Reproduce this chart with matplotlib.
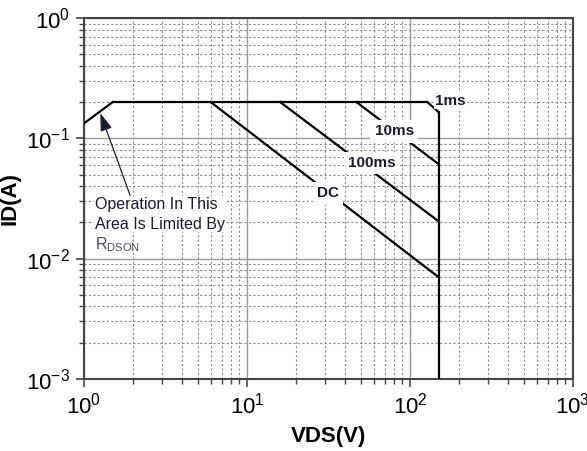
import numpy as np
import matplotlib
matplotlib.use('Agg')
from matplotlib import pyplot, rc
from matplotlib.ticker import LogLocator, FuncFormatter, NullFormatter

rc('font', family='Liberation Sans', size=11)
rc('mathtext', fontset='custom', rm='Liberation Sans', it='Liberation Sans')

# safe operating area boundaries (VDS in V, ID in A)
rds_v = [1.0, 1.5]
rds_i = [0.133, 0.2]
top_v = [1.5, 128]
top_i = [0.2, 0.2]
ms1_v = [128, 150]
ms1_i = [0.2, 0.165]
ms10_v = [47, 150]
ms10_i = [0.2, 0.061]
ms100_v = [16, 150]
ms100_i = [0.2, 0.0204]
dc_v = [6, 150]
dc_i = [0.2, 0.007]
vmax_v = [150, 150]
vmax_i = [0.165, 0.001]

labels = ['1ms', '10ms', '100ms', 'DC']
label_v = [178, 80, 58.5, 31.5]
label_i = [0.205, 0.114, 0.062, 0.0348]

# arrow pointing at the RDS(on) limit
arrow_tip = (1.26, 0.162)
arrow_tail = (1.92, 0.0335)

text_color = '#1a1a2e'

figure = pyplot.figure(figsize=(5.87, 4.51), dpi=100)
plot = figure.add_axes([0.143, 0.160, 0.833, 0.800])
plot.set_xscale('log')
plot.set_yscale('log')
plot.set_xlim(1, 1000)
plot.set_ylim(1e-3, 1)

plot.grid(True, which='major', color='#9a9a9a', linestyle='-', linewidth=1.0)
plot.grid(True, which='minor', color='#8a8a8a', linestyle=(0, (2, 2)),
          linewidth=0.8)

lw = 1.6
for v, i in [(rds_v, rds_i), (top_v, top_i), (ms1_v, ms1_i),
             (ms10_v, ms10_i), (ms100_v, ms100_i), (dc_v, dc_i),
             (vmax_v, vmax_i)]:
    plot.plot(v, i, color='black', linewidth=lw, zorder=3)

for name, v, i in zip(labels, label_v, label_i):
    plot.text(v, i, name, ha='center', va='center', fontsize=11,
              fontweight='bold', color=text_color, zorder=5,
              bbox=dict(facecolor='white', edgecolor='none',
                        pad=3 if name != '1ms' else 1))

plot.text(1.165, 0.0325, 'Operation In This\nArea Is Limited By',
          ha='left', va='top', fontsize=11.5, color=text_color,
          linespacing=1.4, zorder=4,
          bbox=dict(facecolor='white', edgecolor='none', pad=0.5))
plot.text(1.165, 0.0131, r'R$_{\mathregular{DSON}}$', ha='left', va='center',
          fontsize=11.5, color='#4a4a66', zorder=4)
plot.annotate('', xy=arrow_tip, xytext=arrow_tail,
              xycoords='data', textcoords='data',
              arrowprops=dict(arrowstyle='-|>,head_length=0.9,head_width=0.3',
                              color=text_color, lw=0.9,
                              mutation_scale=12, shrinkA=0, shrinkB=0),
              zorder=6)

plot.xaxis.set_major_locator(LogLocator(base=10, numticks=10))
plot.yaxis.set_major_locator(LogLocator(base=10, numticks=10))
plot.xaxis.set_minor_locator(LogLocator(base=10, subs=np.arange(2, 10), numticks=10))
plot.yaxis.set_minor_locator(LogLocator(base=10, subs=np.arange(2, 10), numticks=10))
fmt = FuncFormatter(lambda x, pos: r'$\mathregular{10^{%d}}$' % round(np.log10(x)))
plot.xaxis.set_major_formatter(fmt)
plot.yaxis.set_major_formatter(fmt)
plot.xaxis.set_minor_formatter(NullFormatter())
plot.yaxis.set_minor_formatter(NullFormatter())
plot.tick_params(which='major', direction='out', length=6, width=1.2,
                 color='#444444', labelsize=16, labelcolor='black', pad=4)
plot.tick_params(which='minor', direction='out', length=3.5, width=1.0,
                 color='#444444')
for s in plot.spines.values():
    s.set_color('#444444')
    s.set_linewidth(1.5)

plot.set_xlabel('VDS(V)', fontsize=16, fontweight='bold', labelpad=5)
plot.set_ylabel('ID(A)', fontsize=16, fontweight='bold', labelpad=4)

figure.savefig('out.png', dpi=100)
